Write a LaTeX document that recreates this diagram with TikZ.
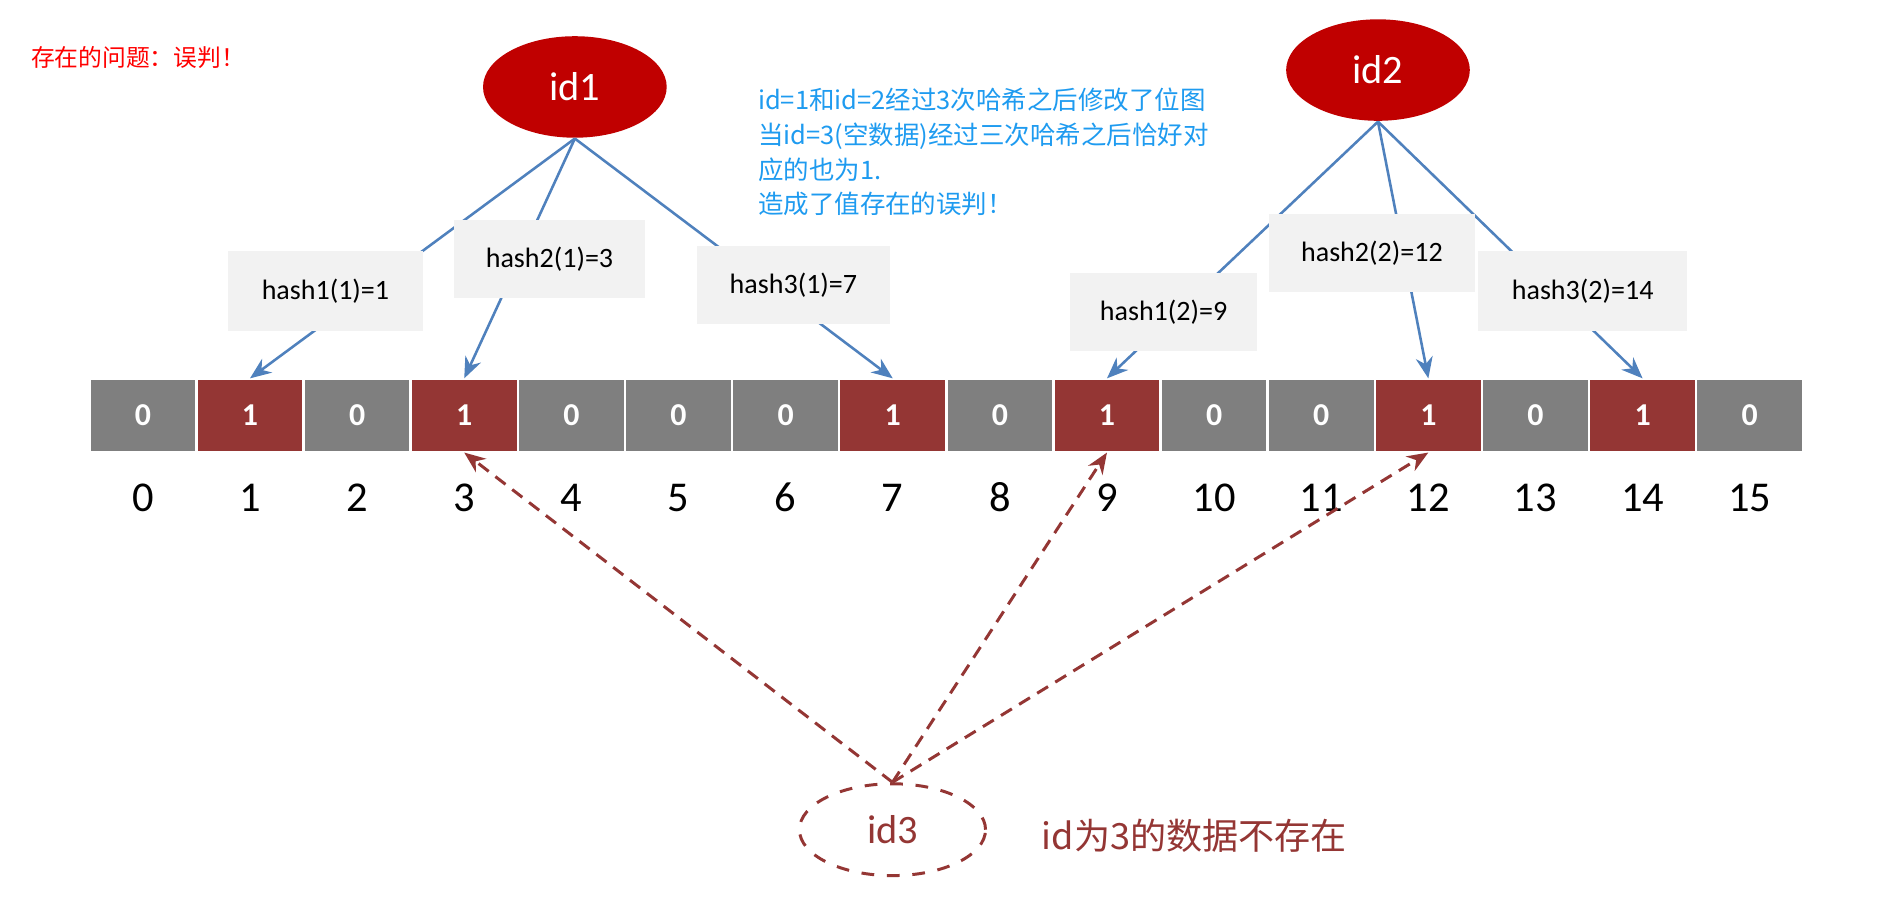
\documentclass[tikz,border=0pt]{standalone}
\usepackage{fontspec}
\setmainfont{Carlito}
\newfontfamily\cjk{Noto Sans CJK SC}
\usetikzlibrary{arrows.meta,shapes.geometric}
\definecolor{cellgray}{HTML}{7F7F7F}
\definecolor{cellred}{HTML}{943634}
\definecolor{idred}{HTML}{C00000}
\definecolor{arrblue}{HTML}{4F81BD}
\definecolor{boxgray}{HTML}{F2F2F2}
\definecolor{txtblue}{HTML}{1E9BF0}
\begin{document}
\begin{tikzpicture}[x=0.01cm,y=-0.01cm,
  cell/.style={minimum width=0.88cm,minimum height=0.6cm,inner sep=0,text=white,font=\fontsize{7.5}{9}\selectfont\bfseries,draw=white,line width=0.4pt},
  zero/.style={cell,fill=cellgray},
  one/.style={cell,fill=cellred},
  idn/.style={ellipse,fill=idred,minimum width=1.52cm,minimum height=0.84cm,text=white,font=\fontsize{9.5}{11}\selectfont},
  hbox/.style={fill=boxgray,inner sep=0,font=\fontsize{6.6}{8}\selectfont},
  harrow/.style={arrblue,line width=0.6pt,-{Stealth[length=5pt,width=4pt]}},
  darrow/.style={cellred,densely dashed,line width=0.7pt,-{Stealth[length=5pt,width=4pt]}},
  num/.style={font=\fontsize{10}{12}\selectfont}]
\useasboundingbox (0,0) rectangle (1560,763);
\fill[white] (0,0) rectangle (1560,763);
\foreach \b [count=\i from 0] in {0,1,0,1,0,0,0,1,0,1,0,0,1,0,1,0}{
  \pgfmathsetmacro\cx{118.3+88.7*\i}
  \ifnum\b=1 \node[one] (c\i) at (\cx,344) {1};
  \else \node[zero] (c\i) at (\cx,344) {0}; \fi
  \node[num] (n\i) at (\cx,412) {\i};
}
\node[idn] (id1) at (476,72) {id1};
\node[idn] (id2) at (1141,58) {id2};
\draw[harrow] (id1.south) -- (c1.north);
\draw[harrow] (id1.south) -- (c3.north);
\draw[harrow] (id1.south) -- (c7.north);
\draw[harrow] (id2.south) -- (c9.north);
\draw[harrow] (id2.south) -- (c12.north);
\draw[harrow] (id2.south) -- (c14.north);
\node[hbox,minimum width=1.61cm,minimum height=0.66cm] (h1) at (269.5,241) {hash1(1)=1};
\node[hbox,minimum width=1.58cm,minimum height=0.65cm] (h2) at (455,214.5) {hash2(1)=3};
\node[hbox,minimum width=1.60cm,minimum height=0.64cm] (h3) at (657,236) {hash3(1)=7};
\node[hbox,minimum width=1.55cm,minimum height=0.65cm] (h4) at (963.5,258.5) {hash1(2)=9};
\node[hbox,minimum width=1.70cm,minimum height=0.65cm] (h5) at (1136,209.5) {hash2(2)=12};
\node[hbox,minimum width=1.73cm,minimum height=0.66cm] (h6) at (1310.5,241) {hash3(2)=14};
\node[ellipse,draw=cellred,dashed,line width=0.7pt,minimum width=1.54cm,minimum height=0.76cm,font=\fontsize{9.5}{11}\selectfont,text=cellred] (id3) at (739,687) {id3};
\draw[darrow] (id3.north) -- (c3.south);
\draw[darrow] (id3.north) -- (c9.south);
\draw[darrow] (id3.north) -- (c12.south);
\node[anchor=west,text=cellred,inner sep=0,font=\cjk\fontsize{8.5}{10}\selectfont] (note) at (862,692) {id为3的数据不存在};
\node[anchor=west,text=red,inner sep=0,font=\cjk\fontsize{5.6}{7}\selectfont] (title) at (25,48) {存在的问题：误判！};
\node[anchor=north west,text=txtblue,inner sep=0,align=left,font=\cjk\fontsize{6}{8.2}\selectfont] (desc) at (627,72) {id=1和id=2经过3次哈希之后修改了位图\\当id=3(空数据)经过三次哈希之后恰好对\\应的也为1.\\造成了值存在的误判！};
\end{tikzpicture}
\end{document}
